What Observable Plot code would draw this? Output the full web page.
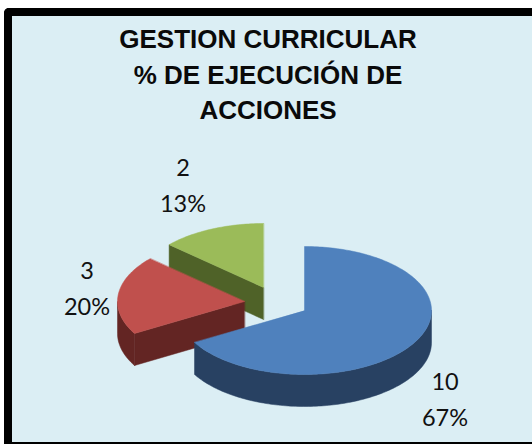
<!DOCTYPE html>
<html>
<head>
<meta charset="utf-8">
<script src="https://cdn.jsdelivr.net/npm/d3@7"></script>
<script src="https://cdn.jsdelivr.net/npm/@observablehq/plot@0.6"></script>
<style>
  html, body { margin: 0; padding: 0; background: #fff; width: 532px; height: 444px; overflow: hidden; }
  #panel { position: absolute; left: 4px; top: 8px; width: 528px; height: 436px; box-sizing: border-box;
           background: #DBEEF4; border: 8px solid #000; border-right-width: 0; border-bottom-width: 2.5px; border-radius: 5px 0 0 0; }
  #title { position: absolute; left: 6px; top: 22px; width: 524px; text-align: center; margin: 0;
           font: bold 26px/35.5px "Liberation Sans", Arial, sans-serif; color: #0a0a0a; }
  #chart { position: absolute; left: 0; top: 0; }
  #chart svg { display: block; background: transparent; }
</style>
</head>
<body>
<div id="panel"></div>
<div id="chart"></div>
<h2 id="title">GESTION CURRICULAR<br>% DE EJECUCIÓN DE<br>ACCIONES</h2>
<script>
// Data
const categories = ["10", "3", "2"];
const seriesValues = [10, 3, 2];
const percentLabels = ["67%", "20%", "13%"];
const topColors = ["#4F81BD", "#C0504D", "#9BBB59"];
const sideColors = ["#284162", "#632523", "#4F6228"];

// Layout of the exploded 3D pie (page pixels)
const centers = [[304, 310], [244, 301], [263, 287]];
const labelAnchors = [[444.5, 397.5], [86.5, 286.5], [182.5, 183.5]];
const rx = 127, ry = 64, depth = 32;

const pieAngles = d3.pie().sort(null)(seriesValues);
const project = (c, a, r = 1, dz = 0) => ({
  x: c[0] + rx * r * Math.sin(a),
  y: c[1] - ry * r * Math.cos(a) + dz
});
const arcPts = (c, a0, a1, dz = 0) => {
  const n = Math.max(2, Math.ceil(Math.abs(a1 - a0) / 0.02));
  return d3.range(n + 1).map(i => project(c, a0 + (a1 - a0) * i / n, 1, dz));
};

const shapes = [];
const push = (id, color, pts) => pts.forEach(p => shapes.push({...p, id, color}));

// paint back to front: green, red, blue
[2, 1, 0].forEach(i => {
  const c = centers[i], a0 = pieAngles[i].startAngle, a1 = pieAngles[i].endAngle;
  // visible radial wall along the start radius of the two back slices
  if (i > 0) {
    const o = project(c, a0);
    push("w" + i, sideColors[i], [
      {x: c[0], y: c[1]}, o, {x: o.x, y: o.y + depth}, {x: c[0], y: c[1] + depth}
    ]);
  }
  // outer rim: the part of the arc on the front half of the ellipse
  const f0 = Math.max(a0, Math.PI / 2), f1 = Math.min(a1, 3 * Math.PI / 2);
  if (f1 > f0) {
    push("r" + i, sideColors[i], [...arcPts(c, f0, f1), ...arcPts(c, f1, f0, depth)]);
  }
  // top face
  push("t" + i, topColors[i], [{x: c[0], y: c[1]}, ...arcPts(c, a0, a1)]);
});

const labels = categories.flatMap((cat, i) => [
  {x: labelAnchors[i][0], y: labelAnchors[i][1] - 16, text: cat},
  {x: labelAnchors[i][0], y: labelAnchors[i][1] + 20, text: percentLabels[i]}
]);

const chart = Plot.plot({
  width: 532, height: 444,
  margin: 0,
  x: {domain: [0, 532], range: [0, 532], axis: null},
  y: {domain: [0, 444], range: [0, 444], axis: null},
  style: {background: "transparent"},
  marks: [
    Plot.line(shapes, {
      x: "x", y: "y", z: "id",
      fill: "color", stroke: "color", strokeWidth: 0.5, curve: "linear-closed"
    }),
    Plot.text(labels, {
      x: "x", y: "y", text: "text",
      fontFamily: "Lato, 'Open Sans', sans-serif", fontSize: 23.5, fill: "#111", textAnchor: "middle"
    })
  ]
});
document.getElementById("chart").append(chart);
</script>
</body>
</html>
